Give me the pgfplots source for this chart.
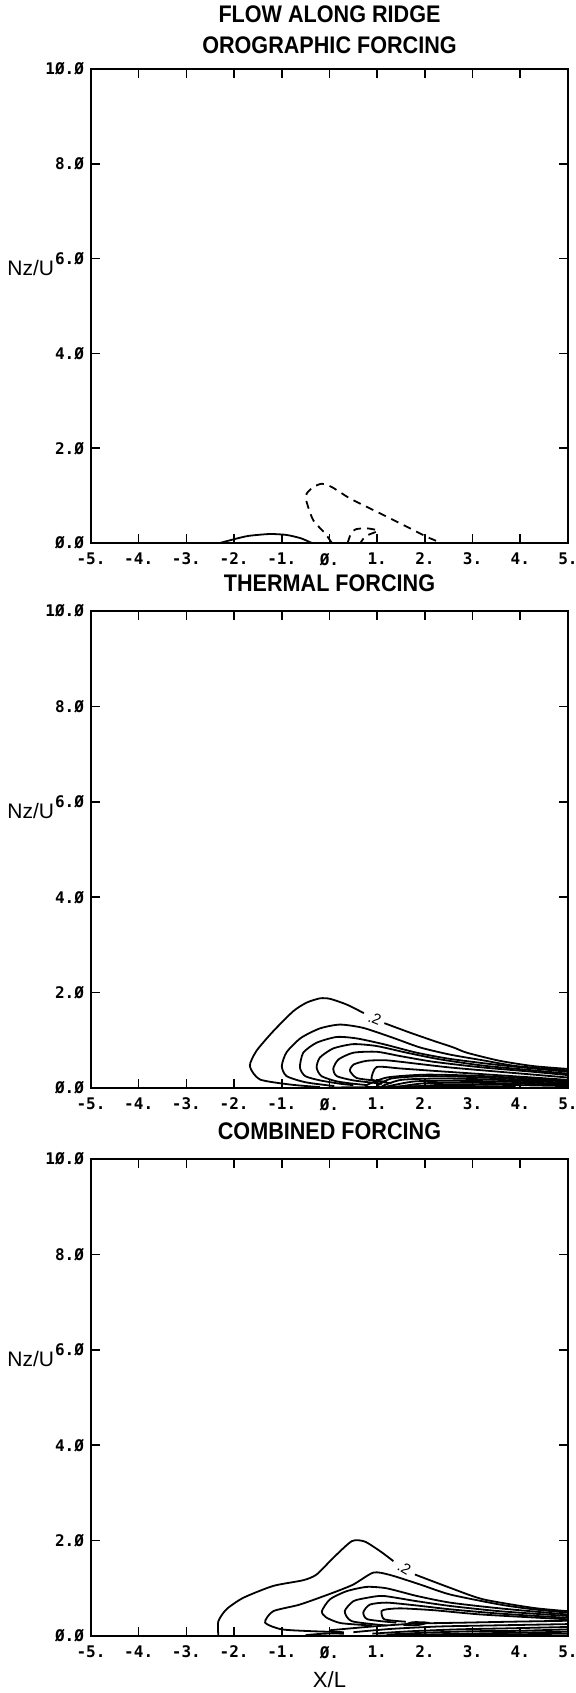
\documentclass[border=0pt]{standalone}
\usepackage{fontspec}
\setmainfont{Liberation Sans}
\newfontfamily\tickfont{DejaVu Sans Mono}
\newfontfamily\titlefont[FakeStretch=0.9]{Liberation Sans}
\usepackage{pgfplots}
\pgfplotsset{compat=1.18}

% one px of the reference = 0.5pt
\pgfplotsset{
  panel/.style={
    width=238.5pt,height=238.5pt,scale only axis,
    xmin=-5,xmax=5,ymin=0,ymax=10,
    xtick={-5,-4,...,5},ytick={0,2,...,10},
    xticklabels={-5.,-4.,-3.,-2.,-1.,Ø.,1.,2.,3.,4.,5.},
    yticklabels={Ø.Ø,2.Ø,4.Ø,6.Ø,8.Ø,1Ø.Ø},
    tick align=inside,major tick length=4.5pt,
    xtick pos=both,ytick pos=both,
    axis line style={line width=1pt},
    tick style={black,line width=0.8pt},
    tick label style={font=\tickfont\bfseries\fontsize{8}{8}\selectfont},
    xticklabel style={yshift=-1.5pt},
    ylabel={Nz/U},
    every axis y label/.style={at={(axis description cs:-0.176,0.58)},anchor=west,
      inner sep=0pt,font=\fontsize{10.5}{12}\selectfont},
    title style={font=\titlefont\bfseries\fontsize{12}{12}\selectfont,
      anchor=base,yshift=4pt},
    every axis plot/.append style={black,line width=0.9pt,no markers},
  },
  cnt/.style={smooth,tension=0.4},
}
\tikzset{lbl/.style={font=\fontsize{7.5}{8}\selectfont,inner sep=0pt}}

\begin{document}
\begin{tikzpicture}
\useasboundingbox (0pt,0pt) rectangle (287.5pt,-846.5pt);

% ---- orographic forcing
\begin{axis}[panel,name=p1,height=237pt,at={(45.5pt,-271.5pt)},anchor=south west,
  title={OROGRAPHIC FORCING},title style={yshift=-2pt}]
\addplot[cnt] coordinates {(-2.3,0) (-2.0,0.08) (-1.7,0.15) (-1.25,0.19) (-0.9,0.17) (-0.6,0.1) (-0.37,0)};
\addplot[cnt,dash pattern=on 4pt off 3pt] coordinates {(0.05,0.0) (-0.09,0.2) (-0.34,0.48) (-0.48,0.87) (-0.48,1.04) (-0.34,1.18) (-0.16,1.25) (0.05,1.18) (0.43,0.94) (0.99,0.66) (1.55,0.38) (2.04,0.13) (2.35,0.0)};
\addplot[cnt,dash pattern=on 4pt off 3pt] coordinates {(0.38,0.0) (0.45,0.2) (0.55,0.29) (0.78,0.31) (1.02,0.26) (0.81,0.17) (0.7,0.08) (0.65,0.0)};
\end{axis}
\node[anchor=base,font=\titlefont\bfseries\fontsize{12}{12}\selectfont]
  at ([yshift=23.5pt]p1.north) {FLOW ALONG RIDGE};

% ---- thermal forcing
\begin{axis}[panel,at={(45.5pt,-544pt)},anchor=south west,
  title={THERMAL FORCING}]
\addplot[cnt] coordinates {(-0.2,0.02) (-0.8,0.07) (-1.46,0.18) (-1.67,0.46) (-1.53,0.78) (-1.18,1.19) (-0.76,1.61) (-0.48,1.79) (-0.2,1.88) (0.01,1.87) (0.36,1.75) (0.72,1.57)};
\addplot[cnt] coordinates {(1.15,1.36) (1.69,1.16) (2.18,0.99) (2.6,0.85) (2.88,0.74) (3.57,0.57) (4.27,0.46) (5,0.4)};
\addplot[cnt] coordinates {(0.1,0.04) (-0.5,0.12) (-0.9,0.25) (-1.0,0.46) (-0.9,0.75) (-0.6,1.05) (-0.2,1.25) (0.22,1.33) (0.71,1.26) (1.34,1.05) (1.9,0.85) (2.53,0.7) (3.22,0.58) (3.92,0.46) (5,0.37)};
\addplot[cnt] coordinates {(0.5,0.06) (0.22,0.09) (-0.2,0.16) (-0.51,0.25) (-0.62,0.43) (-0.55,0.74) (-0.27,0.95) (0.15,1.07) (0.57,1.04) (1.13,0.92) (1.83,0.74) (2.53,0.61) (3.57,0.48) (5,0.34)};
\addplot[cnt] coordinates {(0.8,0.06) (0.5,0.09) (0.15,0.14) (-0.17,0.25) (-0.27,0.43) (-0.2,0.64) (0.08,0.83) (0.5,0.92) (0.99,0.88) (1.62,0.74) (2.32,0.6) (3.22,0.47) (4.27,0.37) (5,0.3)};
\addplot[cnt] coordinates {(1.1,0.09) (0.92,0.11) (0.5,0.16) (0.15,0.25) (0.08,0.41) (0.19,0.6) (0.5,0.74) (0.99,0.76) (1.48,0.67) (2.18,0.55) (3.22,0.43) (4.27,0.34) (5,0.27)};
\addplot[cnt] coordinates {(1.2,0.13) (0.92,0.16) (0.57,0.21) (0.43,0.36) (0.5,0.49) (0.78,0.57) (1.2,0.58) (1.83,0.51) (2.53,0.43) (3.57,0.34) (5,0.22)};
\addplot[cnt] coordinates {(1.3,0.1) (1.0,0.14) (0.88,0.2) (0.99,0.44) (1.48,0.41) (2.18,0.36) (3.22,0.29) (4.27,0.22) (5,0.17)};
\addplot[cnt] coordinates {(0.75,0.05) (1.2,0.22) (2.0,0.28) (3.0,0.26) (4.0,0.21) (5,0.16)};
\addplot[cnt] coordinates {(1.0,0.05) (1.3,0.2) (2.0,0.25) (3.0,0.23) (4.0,0.18) (5,0.14)};
\addplot[cnt] coordinates {(1.1,0.04) (1.5,0.17) (2.3,0.2) (3.3,0.18) (5,0.11)};
\addplot[cnt] coordinates {(1.2,0.03) (1.8,0.14) (2.8,0.15) (3.8,0.13) (5,0.08)};
\addplot[cnt] coordinates {(1.4,0.02) (2.0,0.1) (3.0,0.11) (4.0,0.09) (5,0.06)};
\addplot[cnt] coordinates {(1.6,0.02) (2.4,0.07) (3.4,0.07) (5,0.04)};
\addplot[cnt] coordinates {(0.8,0.02) (2.0,0.04) (3.0,0.04) (3.9,0.02)};
\addplot[cnt] coordinates {(0.0,0.01) (1.0,0.02) (2.5,0.02) (3.6,0.01)};
\node[lbl,rotate=-22] at (axis cs:0.95,1.45) {.2};
\end{axis}

% ---- combined forcing
\begin{axis}[panel,at={(45.5pt,-818pt)},anchor=south west,
  title={COMBINED FORCING},xlabel={X/L},
  every axis x label/.style={at={(axis description cs:0.5,-0.092)},anchor=center,
    font=\fontsize{11}{12}\selectfont}]
\addplot[cnt] coordinates {(-2.33,0) (-2.33,0.31) (-2.16,0.56) (-1.81,0.8) (-1.18,1.05) (-0.55,1.17) (-0.27,1.29) (0.08,1.64) (0.47,1.99) (0.74,1.98) (1.06,1.78) (1.34,1.57)};
\addplot[cnt] coordinates {(1.79,1.29) (2.53,1.01) (3.22,0.77) (4.27,0.59) (5,0.52)};
\addplot[cnt] coordinates {(0.3,0.08) (-0.34,0.1) (-1.0,0.14) (-1.35,0.28) (-1.18,0.52) (-0.62,0.66) (0.08,0.91) (0.5,1.08) (0.92,1.33) (1.27,1.28) (1.9,1.08) (2.53,0.87) (3.57,0.66) (4.27,0.56) (5,0.49)};
\addplot[cnt] coordinates {(0.9,0.22) (0.24,0.27) (-0.07,0.39) (-0.16,0.52) (0.01,0.77) (0.36,0.94) (0.78,1.03) (1.2,1.0) (1.83,0.84) (2.53,0.7) (3.57,0.58) (5,0.45)};
\addplot[cnt] coordinates {(1.2,0.22) (0.47,0.31) (0.32,0.52) (0.5,0.73) (0.78,0.8) (1.13,0.84) (1.83,0.73) (2.53,0.63) (3.57,0.52) (5,0.42)};
\addplot[cnt] coordinates {(1.4,0.28) (0.8,0.35) (0.71,0.5) (0.85,0.66) (1.2,0.7) (1.83,0.64) (2.53,0.56) (3.57,0.47) (5,0.38)};
\addplot[cnt] coordinates {(1.6,0.3) (1.15,0.35) (1.09,0.52) (1.2,0.56) (1.5,0.58) (2.2,0.54) (3.2,0.45) (5,0.35)};
\addplot[cnt] coordinates {(0.0,0.12) (0.9,0.2) (1.8,0.26) (2.8,0.28) (3.8,0.3) (5,0.32)};
\addplot[cnt] coordinates {(0.5,0.08) (1.3,0.15) (2.3,0.2) (3.3,0.22) (5,0.25)};
\addplot[cnt] coordinates {(0.9,0.05) (1.7,0.1) (2.7,0.14) (3.7,0.16) (5,0.19)};
\addplot[cnt] coordinates {(1.2,0.03) (2.0,0.07) (3.0,0.1) (4.0,0.11) (5,0.14)};
\addplot[cnt] coordinates {(1.5,0.02) (2.4,0.04) (3.4,0.06) (5,0.09)};
\addplot[cnt] coordinates {(1.0,0.01) (2.2,0.02) (3.4,0.03) (5,0.05)};
\addplot[cnt] coordinates {(1.55,0.23) (1.75,0.29) (2.05,0.28) (1.85,0.23) (1.55,0.23)};
\addplot[cnt] coordinates {(-0.5,0.02) (-0.1,0.05) (0.3,0.05)};
\node[lbl,rotate=-30] at (axis cs:1.57,1.42) {.2};
\end{axis}
\end{tikzpicture}
\end{document}
